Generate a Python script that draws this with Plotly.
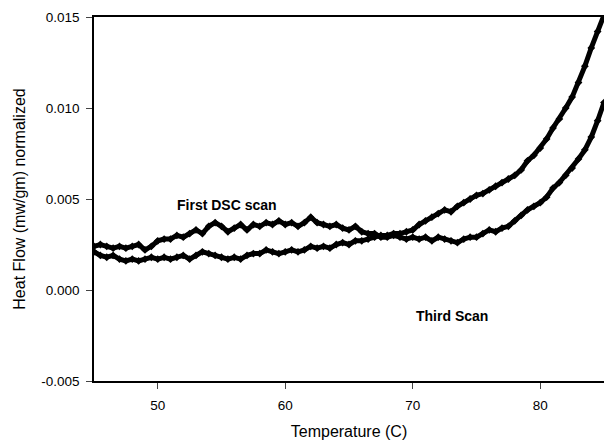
import plotly.graph_objects as go

temperature = [45.0 + 0.5 * i for i in range(81)]

first_scan = [
    0.0024, 0.0025, 0.0024, 0.0023, 0.0024, 0.0023, 0.0024, 0.0025, 0.0022, 0.0024,
    0.0027, 0.0028, 0.0028, 0.0030, 0.0029, 0.0031, 0.0033, 0.0031, 0.0035, 0.0037,
    0.0035, 0.0032, 0.0034, 0.0036, 0.0033, 0.0036, 0.0035, 0.0037, 0.0036, 0.0038,
    0.0036, 0.0037, 0.0035, 0.0037, 0.0040, 0.0037, 0.0036, 0.0035, 0.0036, 0.0034,
    0.0033, 0.0035, 0.0032, 0.0031, 0.0031, 0.0029, 0.0029, 0.0030, 0.0029, 0.0028,
    0.0029, 0.0028, 0.0029, 0.0027, 0.0029, 0.0028, 0.0027, 0.0026, 0.0028, 0.0029,
    0.0029, 0.0031, 0.0033, 0.0032, 0.0034, 0.0035, 0.0038, 0.0041, 0.0044, 0.0046,
    0.0048, 0.0051, 0.0056, 0.0059, 0.0063, 0.0067, 0.0072, 0.0077, 0.0084, 0.0093,
    0.0103,
]

third_scan = [
    0.0021, 0.0019, 0.0018, 0.0019, 0.0017, 0.0016, 0.0017, 0.0016, 0.0017, 0.0018,
    0.0017, 0.0018, 0.0017, 0.0018, 0.0019, 0.0017, 0.0019, 0.0021, 0.0020, 0.0019,
    0.0018, 0.0017, 0.0018, 0.0017, 0.0019, 0.0020, 0.0020, 0.0022, 0.0021, 0.0020,
    0.0021, 0.0022, 0.0021, 0.0022, 0.0024, 0.0023, 0.0024, 0.0023, 0.0025, 0.0026,
    0.0025, 0.0027, 0.0027, 0.0028, 0.0029, 0.0030, 0.0030, 0.0031, 0.0031, 0.0032,
    0.0033, 0.0036, 0.0038, 0.0040, 0.0042, 0.0044, 0.0043, 0.0046, 0.0048, 0.0050,
    0.0052, 0.0053, 0.0055, 0.0057, 0.0059, 0.0061, 0.0063, 0.0066, 0.0071, 0.0074,
    0.0078, 0.0083, 0.0089, 0.0094, 0.0100, 0.0106, 0.0114, 0.0123, 0.0133, 0.0142,
    0.0151,
]

x_ticks = [50, 60, 70, 80]
y_ticks = [-0.005, 0.0, 0.005, 0.010, 0.015]
y_tick_labels = ["-0.005", "0.000", "0.005", "0.010", "0.015"]

FONT = "Arial, Liberation Sans, sans-serif"

fig = go.Figure()
for name, vals in [("First DSC scan", first_scan), ("Third Scan", third_scan)]:
    fig.add_trace(go.Scatter(
        x=temperature, y=vals, mode="lines+markers", name=name,
        line=dict(color="black", width=5),
        marker=dict(color="black", size=6, symbol="diamond"),
    ))

fig.add_annotation(x=55.44, y=0.00467, text="<b>First DSC scan</b>", showarrow=False,
                   font=dict(family=FONT, size=14, color="black"))
fig.add_annotation(x=73.1, y=-0.00141, text="<b>Third Scan</b>", showarrow=False,
                   font=dict(family=FONT, size=14, color="black"))

fig.update_layout(
    width=607, height=442,
    margin=dict(l=94, r=3, t=17, b=61),
    paper_bgcolor="white", plot_bgcolor="white",
    showlegend=False,
    font=dict(family=FONT, size=13, color="black"),
)
fig.update_xaxes(
    range=[45, 85], tickvals=x_ticks, ticks="outside", ticklen=6,
    ticklabelstandoff=5,
    showline=True, linecolor="black", linewidth=1.5, mirror=True,
    showgrid=False, zeroline=False,
    title=dict(text="Temperature (C)", font=dict(size=16), standoff=14),
    tickfont=dict(size=13.5),
)
fig.update_yaxes(
    range=[-0.005, 0.015], tickvals=y_ticks, ticktext=y_tick_labels,
    ticks="outside", ticklen=6, ticklabelstandoff=4,
    showline=True, linecolor="black", linewidth=1.5,
    showgrid=False, zeroline=False,
    title=dict(text="Heat Flow (mw/gm) normalized", font=dict(size=16), standoff=12),
    tickfont=dict(size=13.5),
)

fig.write_html("out.html")
